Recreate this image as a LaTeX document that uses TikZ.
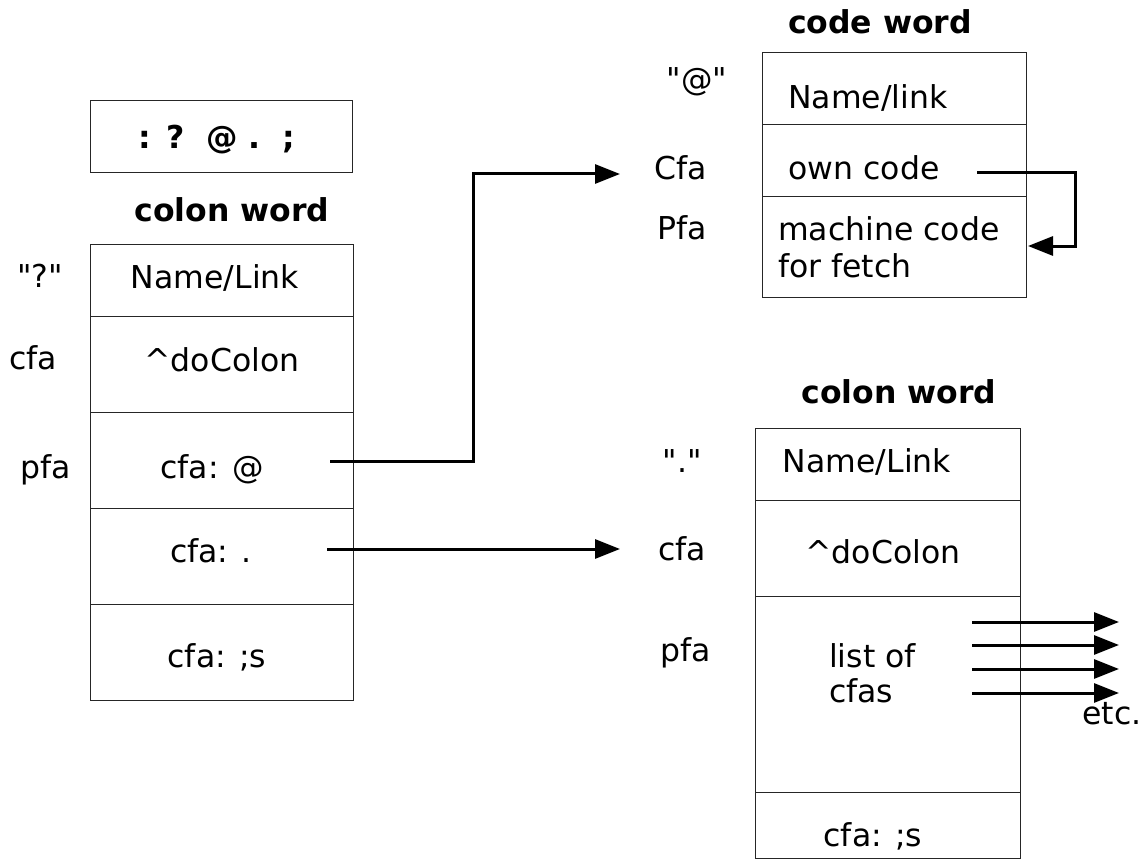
\documentclass[tikz,border=0pt]{standalone}
\usepackage{fontspec}
\setmainfont{DejaVu Sans}[Ligatures=TeXOff]
\usetikzlibrary{arrows.meta}
\begin{document}
\begin{tikzpicture}[x=1pt,y=-1pt,
  cell/.style={draw=black!85,line width=1.2pt,inner sep=0pt,anchor=north west},
  txt/.style={inner sep=0pt,text height=23pt,text depth=0pt,font=\fontsize{31.5}{38}\selectfont},
  ttl/.style={txt,font=\fontsize{31.5}{38}\selectfont\bfseries},
  arr/.style={line width=3pt,-{Triangle[length=25pt,width=19pt]}}]
\useasboundingbox (0,0) rectangle (1140,861);
% top box
\node[cell,minimum width=262pt,minimum height=72pt] (top) at (90,100) {};
\node[ttl] (toptxt) at (217,137) {: ?\ \ @ .\ \ ;};
\node[ttl] (t1) at (232,210) {colon word};
% left column
\node[cell,minimum width=263pt,minimum height=72pt] (L1) at (90,244) {};
\node[cell,minimum width=263pt,minimum height=96pt] (L2) at (90,316) {};
\node[cell,minimum width=263pt,minimum height=96pt] (L3) at (90,412) {};
\node[cell,minimum width=263pt,minimum height=96pt] (L4) at (90,508) {};
\node[cell,minimum width=263pt,minimum height=96pt] (L5) at (90,604) {};
\node[txt] (l1t) at (215,277) {Name/Link};
\node[txt] (l2t) at (222,360) {\^{}doColon};
\node[txt] (l3t) at (212,467) {cfa: @};
\node[txt] (l4t) at (211,551) {cfa: .};
\node[txt] (l5t) at (217,656) {cfa: ;s};
\node[txt] (q1) at (40,276) {"?"};
\node[txt] (c1) at (33,358) {cfa};
\node[txt] (p1) at (46,467) {pfa};
% code word
\node[ttl] (t2) at (880,22) {code word};
\node[cell,minimum width=264pt,minimum height=72pt] (C1) at (762,52) {};
\node[cell,minimum width=264pt,minimum height=72pt] (C2) at (762,124) {};
\node[cell,minimum width=264pt,minimum height=101pt] (C3) at (762,196) {};
\node[txt] (c1t) at (868,97) {Name/link};
\node[txt] (c2t) at (864,168) {own code};
\node[txt,anchor=west] (c3a) at (778,229) {machine code};
\node[txt,anchor=west] (c3b) at (778,266) {for fetch};
\node[txt] (q2) at (697,79) {"@"};
\node[txt] (c2) at (681,168) {Cfa};
\node[txt] (p2) at (682,228) {Pfa};
% colon word 2
\node[ttl] (t3) at (899,392) {colon word};
\node[cell,minimum width=265pt,minimum height=72pt] (D1) at (755,428) {};
\node[cell,minimum width=265pt,minimum height=96pt] (D2) at (755,500) {};
\node[cell,minimum width=265pt,minimum height=196pt] (D3) at (755,596) {};
\node[cell,minimum width=265pt,minimum height=66pt] (D4) at (755,792) {};
\node[txt] (d1t) at (867,461) {Name/Link};
\node[txt] (d2t) at (883,552) {\^{}doColon};
\node[txt,anchor=west] (d3a) at (829,656) {list of};
\node[txt,anchor=west] (d3b) at (829,691) {cfas};
\node[txt] (d4t) at (873,835) {cfa: ;s};
\node[txt] (q3) at (682,461) {"."};
\node[txt] (c3) at (682,549) {cfa};
\node[txt] (p3) at (686,650) {pfa};
\node[txt] (etc) at (1112,713) {etc.};
% connectors
\coordinate (a1s) at (330,461);
\coordinate (a1e) at (620,174);
\draw[arr] (a1s) -- (473,461) |- (a1e);
\coordinate (a2s) at (327,549);
\coordinate (a2e) at (620,549);
\draw[arr] (a2s) -- (a2e);
\coordinate (a3s) at (977,173);
\coordinate (a3e) at (1028,246);
\draw[arr] (a3s) -- (1075,173) |- (a3e);
\foreach \y/\n in {622/e1,645/e2,669/e3,693/e4}{
  \coordinate (\n s) at (972,\y);
  \coordinate (\n e) at (1119,\y);
  \draw[arr] (\n s) -- (\n e);
}
\end{tikzpicture}
\end{document}
